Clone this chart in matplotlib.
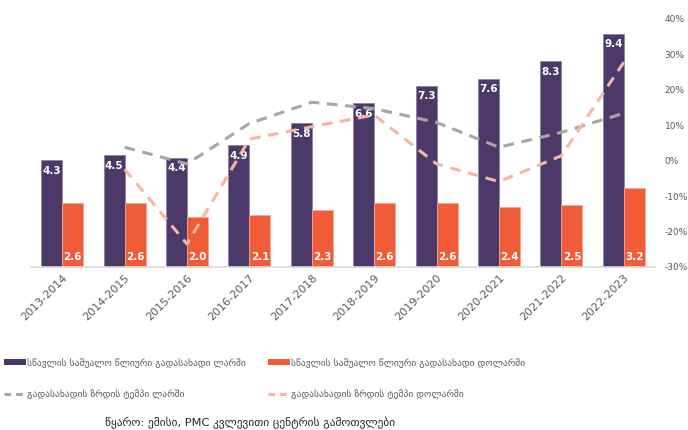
import matplotlib
matplotlib.use("Agg")
import matplotlib.pyplot as plt
import numpy as np
from matplotlib.patches import Patch
from matplotlib.lines import Line2D
from matplotlib.ticker import FuncFormatter
from matplotlib import font_manager

plt.rcParams['font.family'] = ['DejaVu Sans']
names = sorted({f.name for f in font_manager.fontManager.ttflist})
GEO = ['DejaVu Sans Condensed', 'DejaVu Sans'] if 'DejaVu Sans Condensed' in names else ['DejaVu Sans']

years = ["2013-2014", "2014-2015", "2015-2016", "2016-2017", "2017-2018",
         "2018-2019", "2019-2020", "2020-2021", "2021-2022", "2022-2023"]
fee_gel = [4.3, 4.5, 4.4, 4.9, 5.8, 6.6, 7.3, 7.6, 8.3, 9.4]
fee_usd = [2.6, 2.6, 2.0, 2.1, 2.3, 2.6, 2.6, 2.4, 2.5, 3.2]
growth_gel = [None, 3.8, -0.9, 10.5, 16.5, 14.7, 10.8, 3.8, 8.0, 13.4]
growth_usd = [None, -2.4, -23.5, 6.1, 9.6, 12.9, -0.9, -5.9, 1.4, 27.8]

lbl_gel = "სწავლის საშუალო წლიური გადასახადი ლარში"
lbl_usd = "სწავლის საშუალო წლიური გადასახადი დოლარში"
lbl_ggel = "გადასახადის ზრდის ტემპი ლარში"
lbl_gusd = "გადასახადის ზრდის ტემპი დოლარში"
source = "წყარო: ემისი, PMC კვლევითი ცენტრის გამოთვლები"

C_PURPLE = "#4B3A69"
C_ORANGE = "#F05B38"
C_GREY = "#A6A6A6"
C_SALMON = "#F7B5A3"
C_TEXT = "#595959"

fig = plt.figure(figsize=(6.88, 4.30), dpi=100)
ax = fig.add_axes([31/688, 1-267/430, (655-31)/688, (267-19)/430])
x = np.arange(len(years))
w = 0.336
ax.bar(x - w/2, fee_gel, w, color=C_PURPLE, edgecolor="#8E82A8", linewidth=0.6, zorder=2)
ax.bar(x + w/2, fee_usd, w, color=C_ORANGE, edgecolor="#F7A48F", linewidth=0.6, zorder=2)
ax.set_ylim(0, 10)
ax.set_xlim(-0.5, len(years) - 0.5)
ax.set_yticks([])
for s in ["left", "right", "top"]:
    ax.spines[s].set_visible(False)
ax.spines["bottom"].set_color("#D9D9D9")
ax.spines["bottom"].set_linewidth(1.2)
ax.set_xticks(x)
ax.set_xticklabels(years, rotation=45, ha="right", rotation_mode="anchor",
                   fontsize=8, color=C_TEXT)
ax.tick_params(axis="x", length=0, pad=4)

for xi, v in zip(x, fee_gel):
    ax.text(xi - w/2, v - 0.22, f"{v:.1f}", ha="center", va="top", color="white",
            fontsize=7.5, fontweight="bold", zorder=5)
for xi, v in zip(x, fee_usd):
    ax.text(xi + w/2, 0.2, f"{v:.1f}", ha="center", va="bottom", color="white",
            fontsize=7.5, fontweight="bold", zorder=5)

ax2 = ax.twinx()
ax2.set_ylim(-30, 40)
ax2.set_yticks(np.arange(-30, 41, 10))
ax2.yaxis.set_major_formatter(FuncFormatter(lambda v, p: f"{int(v)}%"))
ax2.tick_params(axis="y", length=0, labelsize=6.5, labelcolor=C_TEXT, pad=7)
for s in ["left", "right", "top", "bottom"]:
    ax2.spines[s].set_visible(False)

xs_g = [xi for xi, v in zip(x, growth_gel) if v is not None]
ys_g = [v for v in growth_gel if v is not None]
xs_u = [xi for xi, v in zip(x, growth_usd) if v is not None]
ys_u = [v for v in growth_usd if v is not None]
ax2.plot(xs_g, ys_g, color=C_GREY, lw=2.2, dashes=(3.5, 2.5), zorder=3)
ax2.plot(xs_u, ys_u, color=C_SALMON, lw=2.2, dashes=(3.5, 2.5), zorder=3)

h1 = [Patch(facecolor=C_PURPLE), Line2D([], [], color=C_GREY, lw=2.2, dashes=(2.2, 1.6))]
h2 = [Patch(facecolor=C_ORANGE), Line2D([], [], color=C_SALMON, lw=2.2, dashes=(2.2, 1.6))]
leg_font = font_manager.FontProperties(family=GEO, size=6.8)
kw = dict(frameon=False, prop=leg_font, handlelength=2.3, handleheight=0.6,
          handletextpad=0.15, labelspacing=2.3, labelcolor=C_TEXT,
          borderaxespad=0, borderpad=0)
fig.legend(h1, [lbl_gel, lbl_ggel], loc="upper left", bbox_to_anchor=(4/688, 1-358/430), **kw)
fig.legend(h2, [lbl_usd, lbl_gusd], loc="upper left", bbox_to_anchor=(268/688, 1-358/430), **kw)

fig.text(250/688, 1-423/430, source, ha="center", va="center", fontsize=8.2, color="#262626",
         family=GEO)

fig.savefig("out.png", dpi=100)
